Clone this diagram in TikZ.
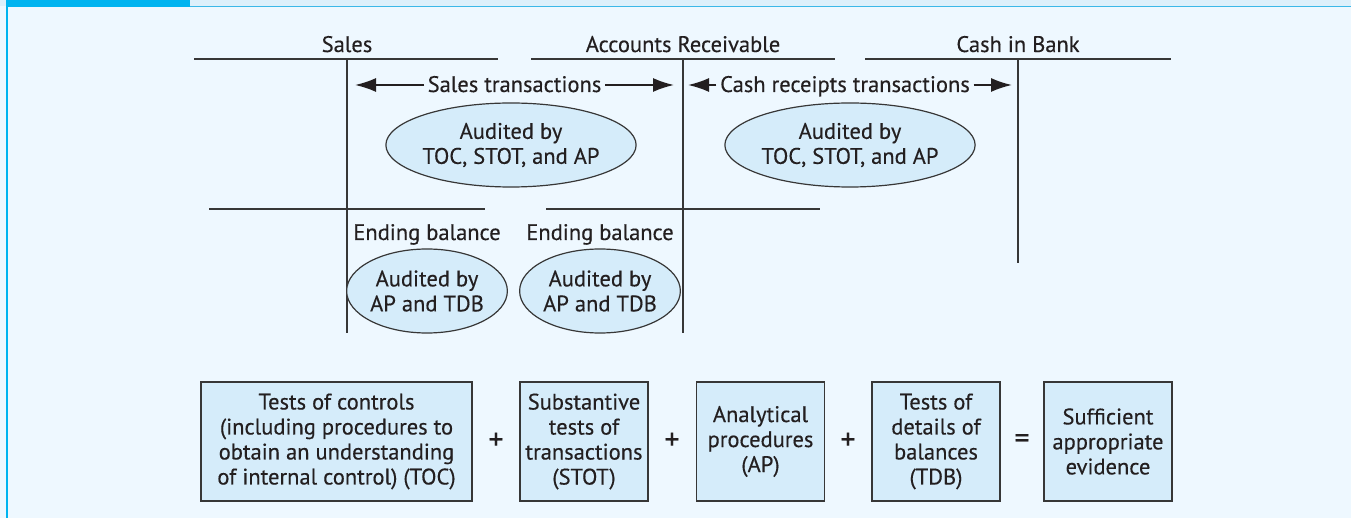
\documentclass[tikz,border=0pt]{standalone}
\usepackage{fontspec}
\setmainfont{PT Sans}[FakeBold=0.35]
\usetikzlibrary{arrows.meta,shapes.geometric}
\definecolor{bodybg}{RGB}{238,248,255}
\definecolor{tabblue}{RGB}{0,180,240}
\definecolor{bandbg}{RGB}{221,240,251}
\definecolor{rulebl}{RGB}{60,184,232}
\definecolor{boxfill}{RGB}{213,236,250}
\definecolor{ink}{RGB}{35,31,32}
\definecolor{linegray}{RGB}{55,55,55}
\tikzset{
  lbl/.style={text=ink, inner sep=0pt, anchor=base},
  lbltight/.style={text=ink, inner sep=3.5pt, anchor=base},
  tline/.style={draw=linegray, line width=1.5pt},
  arr/.style={draw=ink, line width=1.8pt, -{Latex[length=21pt,width=14pt]}},
  ell/.style={ellipse, draw=linegray, line width=1.2pt, fill=boxfill, text=ink, align=center, inner sep=0pt},
  evbox/.style={rectangle, draw=linegray, line width=1.3pt, fill=boxfill, text=ink, align=center, inner sep=0pt, minimum height=119pt},
  op/.style={text=ink, inner sep=0pt, font=\fontsize{30}{30}\selectfont}
}
\begin{document}
\begin{tikzpicture}[x=1pt,y=-1pt, font=\fontsize{22.5}{25}\selectfont]
\useasboundingbox (0,0) rectangle (1351,518);
\fill[bodybg] (0,0) rectangle (1351,518);
\fill[bandbg] (0,0) rectangle (1351,6);
\fill[tabblue] (7,0) rectangle (190,7);
\draw[rulebl, line width=1.5pt] (190,6.5) -- (1351,6.5);
\draw[tabblue, line width=2pt] (7,0) -- (7,518);

% T-account titles
\node[lbl] (tS) at (347,52) {Sales};
\node[lbl] (tAR) at (683,52) {Accounts Receivable};
\node[lbl] (tC) at (1018,52) {Cash in Bank};

% T-account lines
\coordinate (sL) at (194,59); \coordinate (sR) at (498,59);
\coordinate (sT) at (347,59); \coordinate (sB) at (347,333);
\coordinate (aL) at (531,59); \coordinate (aR) at (835,59);
\coordinate (aT) at (683,59); \coordinate (aB) at (683,333);
\coordinate (cL) at (865,59); \coordinate (cR) at (1171,59);
\coordinate (cT) at (1018,59); \coordinate (cB) at (1018,263);
\draw[tline] (sL) -- (sR);
\draw[tline] (sT) -- (sB);
\draw[tline] (aL) -- (aR);
\draw[tline] (aT) -- (aB);
\draw[tline] (cL) -- (cR);
\draw[tline] (cT) -- (cB);
% balance lines
\coordinate (sbL) at (209,209); \coordinate (sbR) at (485,209);
\coordinate (abL) at (546,209); \coordinate (abR) at (820,209);
\draw[tline] (sbL) -- (sbR);
\draw[tline] (abL) -- (abR);

% transaction arrows
\node[lbltight] (st) at (514.5,92) {Sales transactions};
\coordinate (stL) at (355,85); \coordinate (stR) at (674,85);
\draw[arr] (st.west |- stL) -- (stL);
\draw[arr] (st.east |- stR) -- (stR);
\node[lbltight] (ct) at (845,92) {Cash receipts transactions};
\coordinate (ctL) at (688,85); \coordinate (ctR) at (1012,85);
\draw[arr] (ct.west |- ctL) -- (ctL);
\draw[arr] (ct.east |- ctR) -- (ctR);

% top ellipses
\node[ell, minimum width=205pt, minimum height=84pt] (e1) at (511,145) {Audited by\\TOC, STOT, and AP};
\node[ell, minimum width=205pt, minimum height=84pt] (e2) at (850,145) {Audited by\\TOC, STOT, and AP};

% ending balances
\node[lbl] (eb1) at (427,240) {Ending balance};
\node[lbl] (eb2) at (600,240) {Ending balance};
\node[ell, minimum width=150pt, minimum height=84pt] (e3) at (427,291) {Audited by\\AP and TDB};
\node[ell, minimum width=150pt, minimum height=84pt] (e4) at (600,291) {Audited by\\AP and TDB};

% evidence boxes
\node[evbox, minimum width=271pt] (b1) at (336.5,441.5) {Tests of controls\\(including procedures to\\obtain an understanding\\of internal control) (TOC)};
\node[op] (p1) at (496,441) {+};
\node[evbox, minimum width=128pt] (b2) at (584,441.5) {Substantive\\tests of\\transactions\\(STOT)};
\node[op] (p2) at (672,441) {+};
\node[evbox, minimum width=128pt] (b3) at (760.5,441.5) {Analytical\\procedures\\(AP)};
\node[op] (p3) at (848,441) {+};
\node[evbox, minimum width=128pt] (b4) at (936,441.5) {Tests of\\details of\\balances\\(TDB)};
\node[op] (eq) at (1022,441) {=};
\node[evbox, minimum width=128pt] (b5) at (1108,441.5) {Sufficient\\appropriate\\evidence};
\end{tikzpicture}
\end{document}
